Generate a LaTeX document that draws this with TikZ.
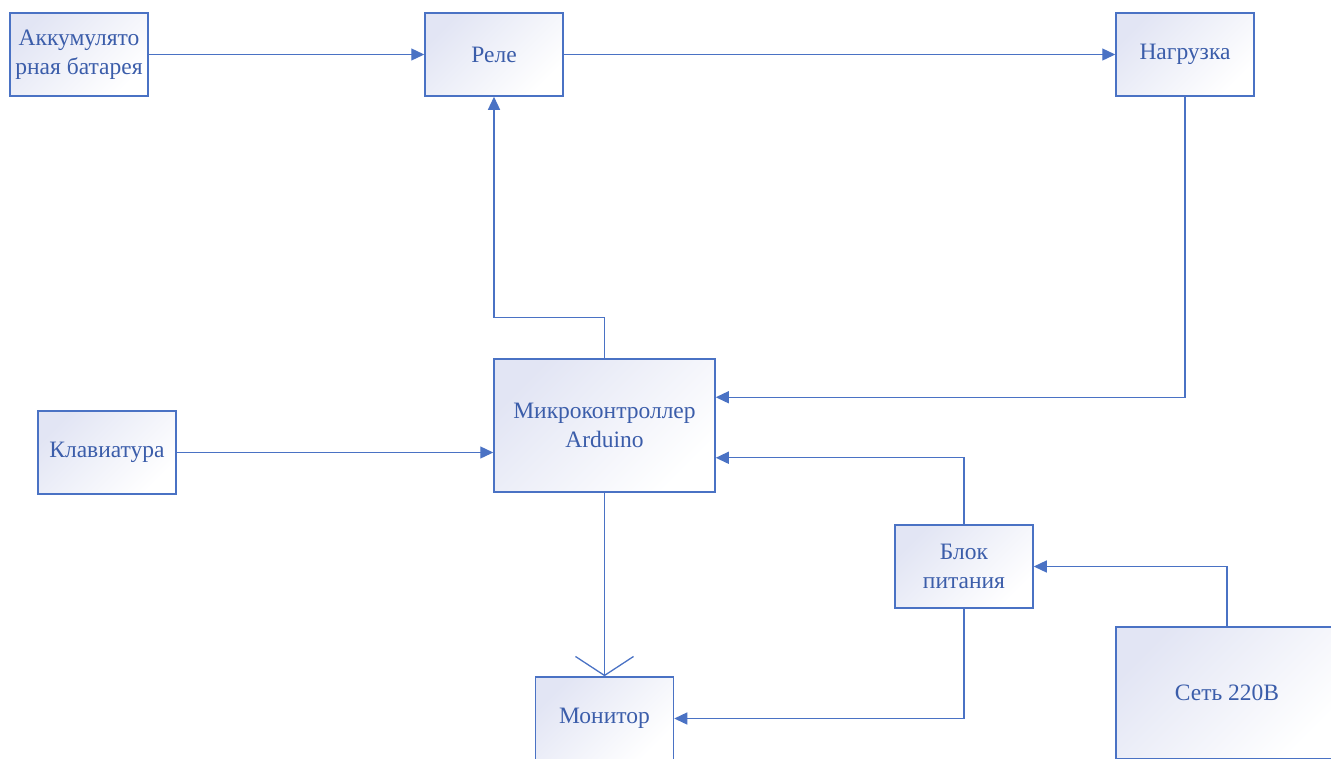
\documentclass[tikz,border=0pt]{standalone}
\usepackage{fontspec}
\setmainfont{Liberation Serif}
\usepackage{xcolor}
\usetikzlibrary{calc, arrows.meta}

\definecolor{lineblue}{HTML}{4A72C4}
\definecolor{textblue}{HTML}{3B5DAA}
\definecolor{boxshade}{HTML}{E2E5F4}

\tikzset{
	block/.style = {draw = lineblue, line width = 1.5pt, rectangle, align = center,
		top color = boxshade, bottom color = white, shading angle = 45,
		text = textblue, font = \fontsize{23.5}{29}\selectfont,
		minimum width = 138pt, minimum height = 83pt, inner sep = 0pt},
	bigblock/.style = {block, minimum width = 221pt, minimum height = 133pt},
	link/.style = {draw = lineblue, line width = 1.3pt, -{Triangle[length = 13pt, width = 12pt]}},
	openlink/.style = {draw = lineblue, line width = 1.3pt, -{Straight Barb[length = 19pt, width = 58pt]}}
}

\begin{document}
\begin{tikzpicture}[x = 1pt, y = -1pt]
			\useasboundingbox (0,0) rectangle (1331,758);
			\clip (0,0) rectangle (1331,758);

			\begin{scope}
				\node [block] (akku) at (79,54.5) {Аккумулято\\рная батарея};
				\node [block] (rele) at (494,54.5) {Реле};
				\node [block] (nagr) at (1185,54.5) {Нагрузка};
				\node [bigblock] (mcu) at (604.5,425.5) {Микроконтроллер\\Arduino};
				\node [block] (klav) at (107,452.5) {Клавиатура};
				\node [block] (blok) at (964,566.5) {Блок\\питания};
				\node [block] (mon) at (604.5,718.5) {Монитор};
				\node [bigblock, minimum width = 222pt, minimum height = 132pt] (set) at (1227,693) {Сеть 220В};
			\end{scope}

			\begin{scope}
				\draw [link] (akku.east) -- (rele.west);
				\draw [link] (rele.east) -- (nagr.west);
				\draw [link] (nagr.south) |- ($(mcu.north east)!0.29!(mcu.south east)$);
				\draw [link] (mcu.north) -- ++(0,-41) -| (rele.south);
				\draw [link] (klav.east) -- (klav.east -| mcu.west);
				\draw [link] (blok.north) |- ($(mcu.north east)!0.74!(mcu.south east)$);
				\draw [link] (set.north) |- (blok.east);
				\draw [link] (blok.south) |- (mon.east);
				\draw [openlink] (mcu.south) -- (mon.north);
			\end{scope}
		\end{tikzpicture}
\end{document}
